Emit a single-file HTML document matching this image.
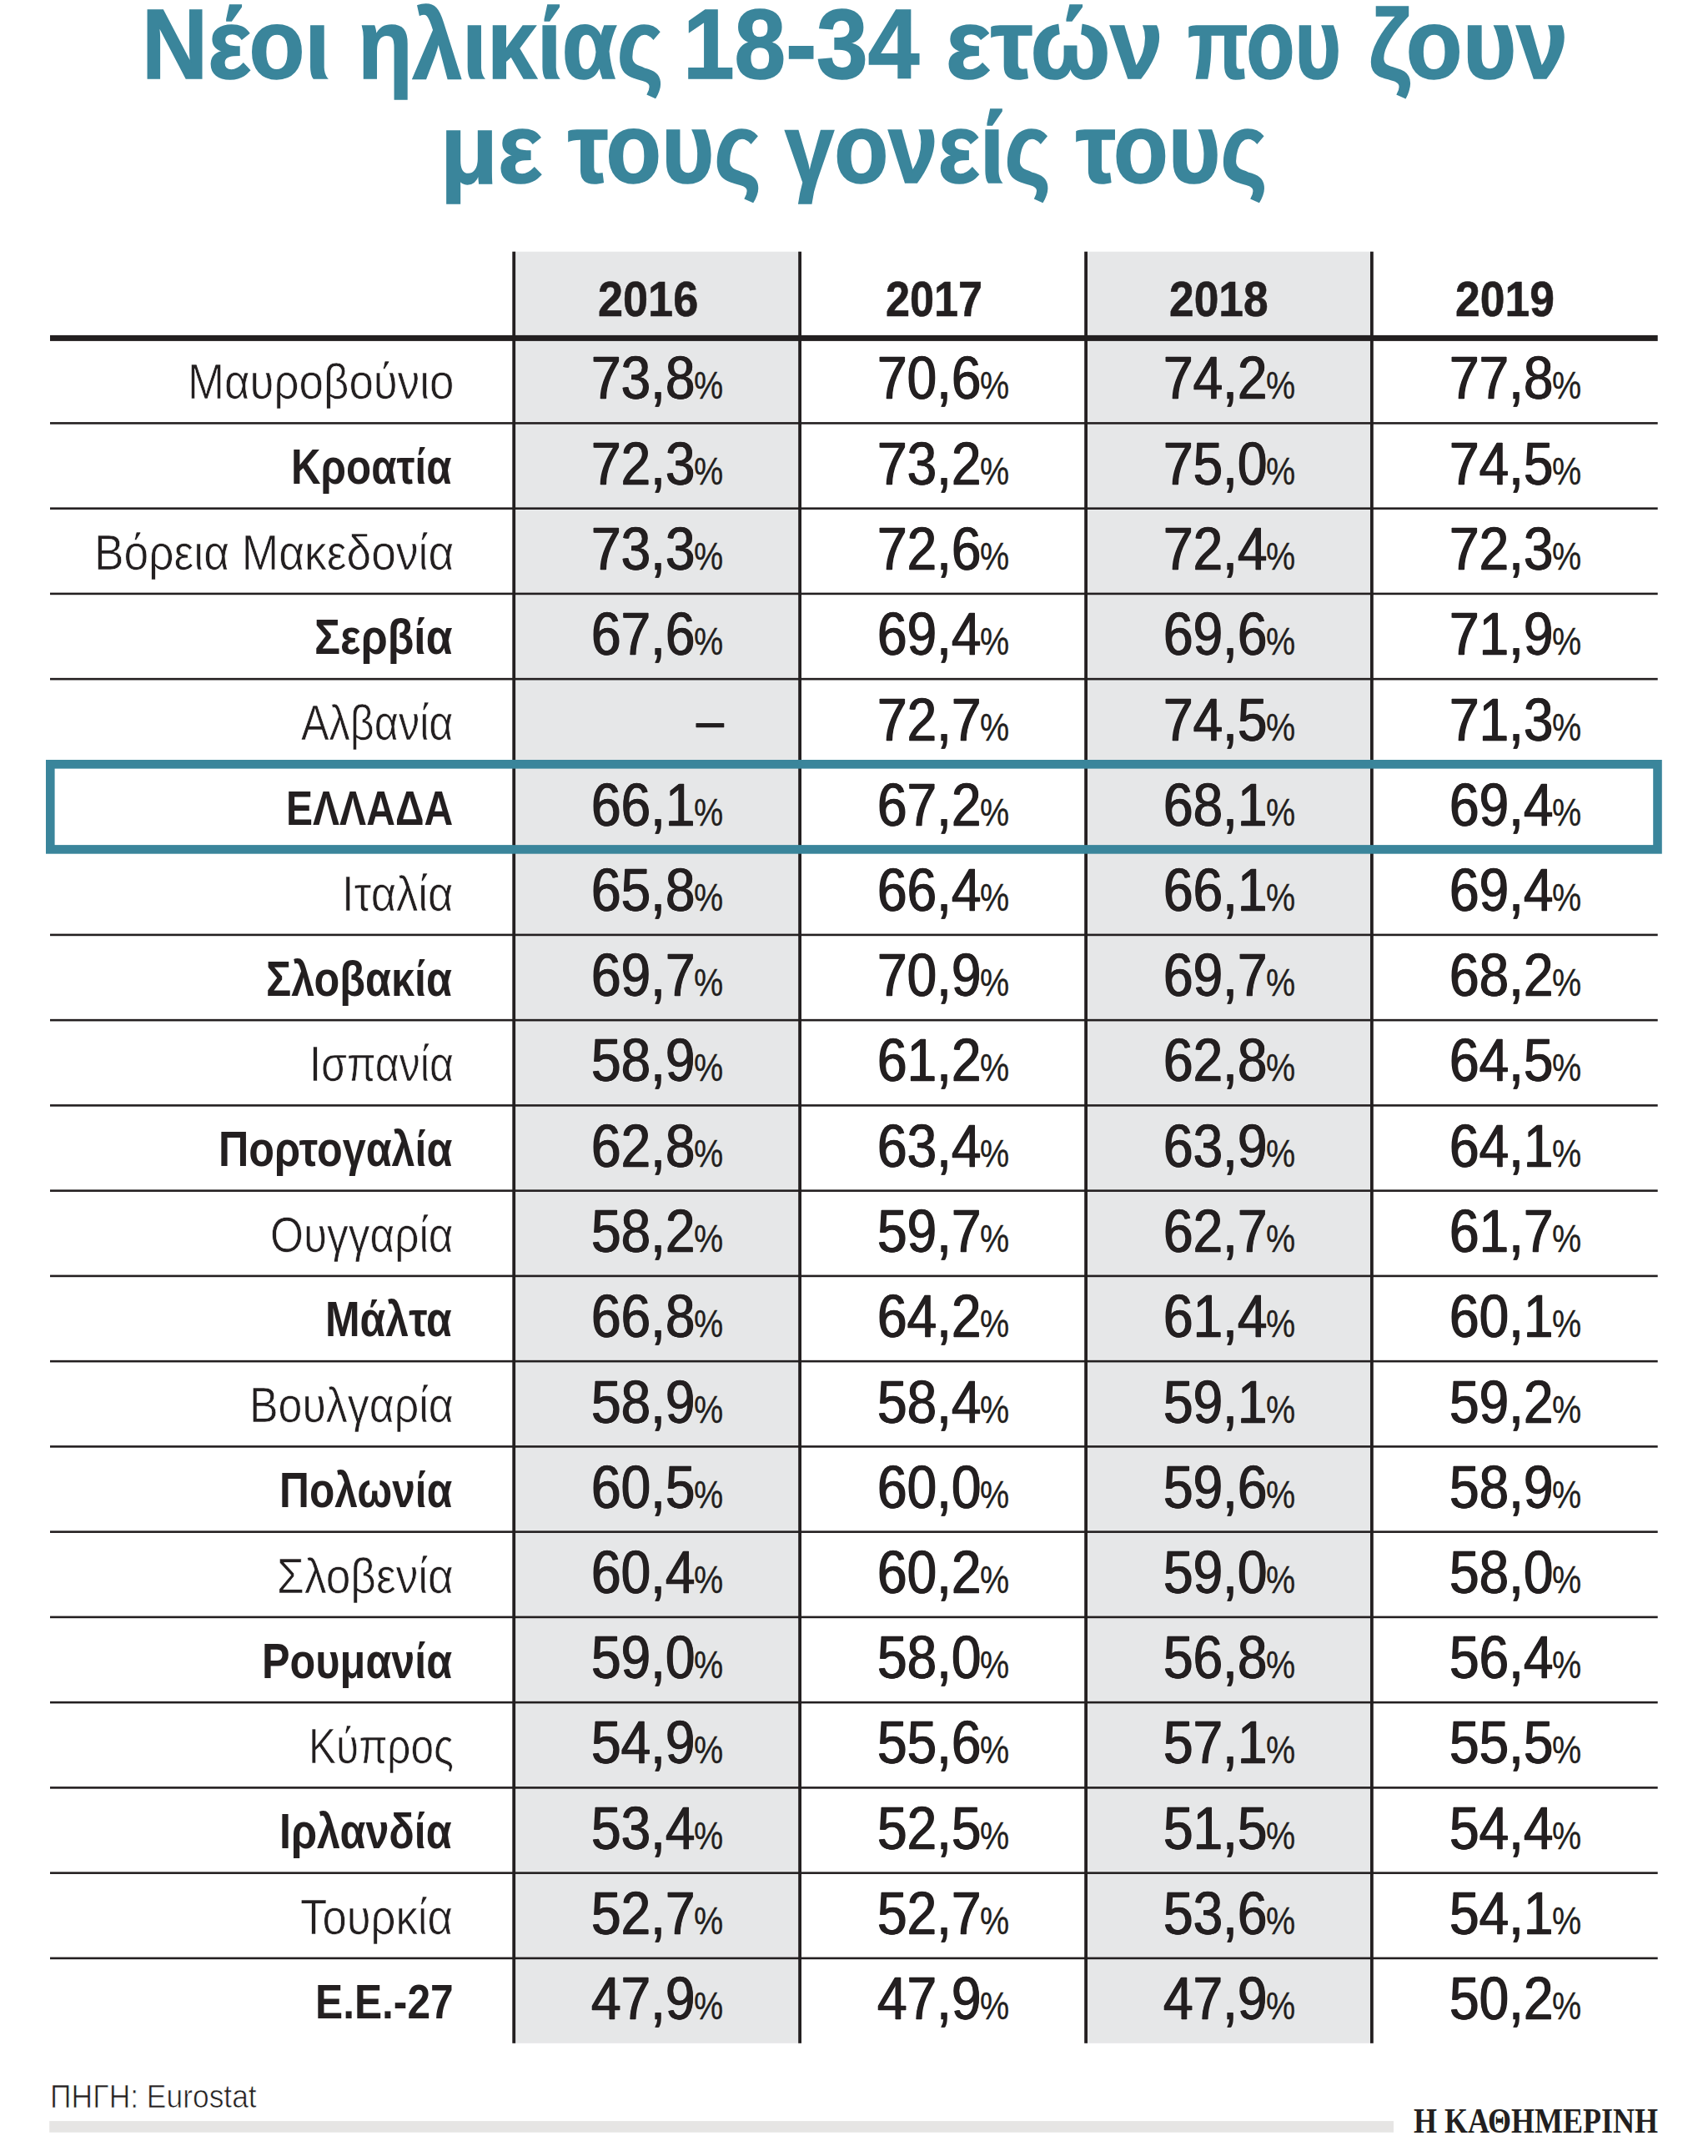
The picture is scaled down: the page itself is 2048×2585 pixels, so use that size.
<!DOCTYPE html>
<html lang="el"><head><meta charset="utf-8"><title>Νέοι ηλικίας 18-34 ετών που ζουν με τους γονείς τους</title>
<style>
html,body{margin:0;padding:0;background:#fff}
#pg{position:relative;width:2048px;height:2585px;overflow:hidden;background:#fff;font-family:'Liberation Sans', sans-serif;color:#231f20}
#sh{position:absolute;left:0;top:0}
.t{position:absolute;white-space:nowrap;transform-origin:0 0;font-weight:400}
.b{font-weight:700}
.l{-webkit-text-stroke:0.7px #fff}
.sl{-webkit-text-stroke:0.7px #fff}
.yr{-webkit-text-stroke:0.6px #231f20}
.tt{-webkit-text-stroke:1.6px #3a859b}
.sf{font-family:'Liberation Serif', serif;font-weight:700}
.n{font-size:71.5px;line-height:71.5px;transform:scaleX(0.8942);-webkit-text-stroke:0.3px #231f20;text-shadow:0.7px 0 0 #231f20,-0.7px 0 0 #231f20}
.p{font-size:46px;line-height:46px;transform:scaleX(0.8595);-webkit-text-stroke:0.3px #231f20}
</style></head>
<body><div id="pg">
<svg id="sh" width="2048" height="2585" viewBox="0 0 2048 2585">
<rect x="616.20" y="301.70" width="342.90" height="2148.10" fill="#e6e7e8"/>
<rect x="1302.10" y="301.70" width="342.80" height="2148.10" fill="#e6e7e8"/>
<rect x="60.00" y="506.10" width="1927.70" height="2.60" fill="#231f20"/>
<rect x="60.00" y="608.35" width="1927.70" height="2.60" fill="#231f20"/>
<rect x="60.00" y="710.60" width="1927.70" height="2.60" fill="#231f20"/>
<rect x="60.00" y="812.85" width="1927.70" height="2.60" fill="#231f20"/>
<rect x="60.00" y="1119.60" width="1927.70" height="2.60" fill="#231f20"/>
<rect x="60.00" y="1221.85" width="1927.70" height="2.60" fill="#231f20"/>
<rect x="60.00" y="1324.10" width="1927.70" height="2.60" fill="#231f20"/>
<rect x="60.00" y="1426.35" width="1927.70" height="2.60" fill="#231f20"/>
<rect x="60.00" y="1528.60" width="1927.70" height="2.60" fill="#231f20"/>
<rect x="60.00" y="1630.85" width="1927.70" height="2.60" fill="#231f20"/>
<rect x="60.00" y="1733.10" width="1927.70" height="2.60" fill="#231f20"/>
<rect x="60.00" y="1835.35" width="1927.70" height="2.60" fill="#231f20"/>
<rect x="60.00" y="1937.60" width="1927.70" height="2.60" fill="#231f20"/>
<rect x="60.00" y="2039.85" width="1927.70" height="2.60" fill="#231f20"/>
<rect x="60.00" y="2142.10" width="1927.70" height="2.60" fill="#231f20"/>
<rect x="60.00" y="2244.35" width="1927.70" height="2.60" fill="#231f20"/>
<rect x="60.00" y="2346.60" width="1927.70" height="2.60" fill="#231f20"/>
<rect x="60.00" y="401.90" width="1927.70" height="7.00" fill="#231f20"/>
<rect x="614.30" y="301.70" width="3.80" height="2148.10" fill="#231f20"/>
<rect x="957.20" y="301.70" width="3.80" height="2148.10" fill="#231f20"/>
<rect x="1300.20" y="301.70" width="3.80" height="2148.10" fill="#231f20"/>
<rect x="1643.00" y="301.70" width="3.80" height="2148.10" fill="#231f20"/>
<rect x="60.30" y="916.30" width="1927.20" height="102.10" fill="none" stroke="#3a859b" stroke-width="10.6"/>
<rect x="59.20" y="2543.10" width="1611.80" height="13.60" fill="#e6e5e4"/>
</svg>
<div class="t b tt" style="left:169.67px;top:-6px;font-size:118px;line-height:118px;color:#3a859b;transform:scaleX(0.9286)">Νέοι</div>
<div class="t b tt" style="left:428.74px;top:-6px;font-size:118px;line-height:118px;color:#3a859b;transform:scaleX(0.9097)">ηλικίας</div>
<div class="t b tt" style="left:819.43px;top:-6px;font-size:118px;line-height:118px;color:#3a859b;transform:scaleX(0.9388)">18-34</div>
<div class="t b tt" style="left:1134.15px;top:-6px;font-size:118px;line-height:118px;color:#3a859b;transform:scaleX(0.9625)">ετών</div>
<div class="t b tt" style="left:1424.48px;top:-6px;font-size:118px;line-height:118px;color:#3a859b;transform:scaleX(0.8081)">που</div>
<div class="t b tt" style="left:1641.04px;top:-6px;font-size:118px;line-height:118px;color:#3a859b;transform:scaleX(0.9404)">ζουν</div>
<div class="t b tt" style="left:528.15px;top:119px;font-size:118px;line-height:118px;color:#3a859b;transform:scaleX(0.9559)">με</div>
<div class="t b tt" style="left:680.88px;top:119px;font-size:118px;line-height:118px;color:#3a859b;transform:scaleX(0.9215)">τους</div>
<div class="t b tt" style="left:940.90px;top:119px;font-size:118px;line-height:118px;color:#3a859b;transform:scaleX(0.9023)">γονείς</div>
<div class="t b tt" style="left:1289.89px;top:119px;font-size:118px;line-height:118px;color:#3a859b;transform:scaleX(0.9122)">τους</div>
<div class="t b yr" style="left:716.87px;top:330px;font-size:59px;line-height:59px;transform:scaleX(0.9157)">2016</div>
<div class="t b yr" style="left:1061.73px;top:330px;font-size:59px;line-height:59px;transform:scaleX(0.8843)">2017</div>
<div class="t b yr" style="left:1402.19px;top:330px;font-size:59px;line-height:59px;transform:scaleX(0.9039)">2018</div>
<div class="t b yr" style="left:1744.79px;top:330px;font-size:59px;line-height:59px;transform:scaleX(0.9063)">2019</div>
<div class="t l" style="left:224.71px;top:428px;font-size:59.5px;line-height:59.5px;transform:scaleX(0.8886)">Μαυροβούνιο</div>
<div class="t b" style="left:349.49px;top:530px;font-size:59.5px;line-height:59.5px;transform:scaleX(0.8281)">Κροατία</div>
<div class="t l" style="left:112.57px;top:633px;font-size:59.5px;line-height:59.5px;transform:scaleX(0.8964)">Βόρεια Μακεδονία</div>
<div class="t b" style="left:377.09px;top:734px;font-size:59.5px;line-height:59.5px;transform:scaleX(0.8704)">Σερβία</div>
<div class="t l" style="left:360.65px;top:837px;font-size:59.5px;line-height:59.5px;transform:scaleX(0.8472)">Αλβανία</div>
<div class="t b" style="left:342.66px;top:941px;font-size:57.5px;line-height:57.5px;transform:scaleX(0.8359)">ΕΛΛΑΔΑ</div>
<div class="t l" style="left:410.23px;top:1042px;font-size:59.5px;line-height:59.5px;transform:scaleX(0.8840)">Ιταλία</div>
<div class="t b" style="left:319.06px;top:1144px;font-size:59.5px;line-height:59.5px;transform:scaleX(0.8462)">Σλοβακία</div>
<div class="t l" style="left:370.84px;top:1246px;font-size:59.5px;line-height:59.5px;transform:scaleX(0.8429)">Ισπανία</div>
<div class="t b" style="left:261.62px;top:1348px;font-size:59.5px;line-height:59.5px;transform:scaleX(0.8459)">Πορτογαλία</div>
<div class="t l" style="left:324.26px;top:1451px;font-size:59.5px;line-height:59.5px;transform:scaleX(0.8639)">Ουγγαρία</div>
<div class="t b" style="left:390.44px;top:1552px;font-size:59.5px;line-height:59.5px;transform:scaleX(0.8398)">Μάλτα</div>
<div class="t l" style="left:298.59px;top:1655px;font-size:59.5px;line-height:59.5px;transform:scaleX(0.8723)">Βουλγαρία</div>
<div class="t b" style="left:335.36px;top:1757px;font-size:59.5px;line-height:59.5px;transform:scaleX(0.8350)">Πολωνία</div>
<div class="t l" style="left:331.77px;top:1860px;font-size:59.5px;line-height:59.5px;transform:scaleX(0.8944)">Σλοβενία</div>
<div class="t b" style="left:314.02px;top:1962px;font-size:59.5px;line-height:59.5px;transform:scaleX(0.8460)">Ρουμανία</div>
<div class="t l" style="left:369.59px;top:2064px;font-size:59.5px;line-height:59.5px;transform:scaleX(0.8327)">Κύπρος</div>
<div class="t b" style="left:335.32px;top:2166px;font-size:59.5px;line-height:59.5px;transform:scaleX(0.8454)">Ιρλανδία</div>
<div class="t l" style="left:360.36px;top:2269px;font-size:59.5px;line-height:59.5px;transform:scaleX(0.8858)">Τουρκία</div>
<div class="t b" style="left:378.34px;top:2372px;font-size:57.5px;line-height:57.5px;transform:scaleX(0.8638)">Ε.Ε.-27</div>
<div class="t n" style="left:708.80px;top:418px">73,8</div>
<div class="t p" style="left:831.73px;top:439px">%</div>
<div class="t n" style="left:1051.80px;top:418px">70,6</div>
<div class="t p" style="left:1174.73px;top:439px">%</div>
<div class="t n" style="left:1394.80px;top:418px">74,2</div>
<div class="t p" style="left:1517.73px;top:439px">%</div>
<div class="t n" style="left:1737.80px;top:418px">77,8</div>
<div class="t p" style="left:1860.73px;top:439px">%</div>
<div class="t n" style="left:708.80px;top:521px">72,3</div>
<div class="t p" style="left:831.73px;top:542px">%</div>
<div class="t n" style="left:1051.80px;top:521px">73,2</div>
<div class="t p" style="left:1174.73px;top:542px">%</div>
<div class="t n" style="left:1394.80px;top:521px">75,0</div>
<div class="t p" style="left:1517.73px;top:542px">%</div>
<div class="t n" style="left:1737.80px;top:521px">74,5</div>
<div class="t p" style="left:1860.73px;top:542px">%</div>
<div class="t n" style="left:708.80px;top:623px">73,3</div>
<div class="t p" style="left:831.73px;top:644px">%</div>
<div class="t n" style="left:1051.80px;top:623px">72,6</div>
<div class="t p" style="left:1174.73px;top:644px">%</div>
<div class="t n" style="left:1394.80px;top:623px">72,4</div>
<div class="t p" style="left:1517.73px;top:644px">%</div>
<div class="t n" style="left:1737.80px;top:623px">72,3</div>
<div class="t p" style="left:1860.73px;top:644px">%</div>
<div class="t n" style="left:708.80px;top:725px">67,6</div>
<div class="t p" style="left:831.73px;top:746px">%</div>
<div class="t n" style="left:1051.80px;top:725px">69,4</div>
<div class="t p" style="left:1174.73px;top:746px">%</div>
<div class="t n" style="left:1394.80px;top:725px">69,6</div>
<div class="t p" style="left:1517.73px;top:746px">%</div>
<div class="t n" style="left:1737.80px;top:725px">71,9</div>
<div class="t p" style="left:1860.73px;top:746px">%</div>
<div class="t n" style="left:834.50px;top:828px;transform:scaleX(0.8250)">–</div>
<div class="t n" style="left:1051.80px;top:828px">72,7</div>
<div class="t p" style="left:1174.73px;top:849px">%</div>
<div class="t n" style="left:1394.80px;top:828px">74,5</div>
<div class="t p" style="left:1517.73px;top:849px">%</div>
<div class="t n" style="left:1737.80px;top:828px">71,3</div>
<div class="t p" style="left:1860.73px;top:849px">%</div>
<div class="t n" style="left:708.80px;top:930px">66,1</div>
<div class="t p" style="left:831.73px;top:951px">%</div>
<div class="t n" style="left:1051.80px;top:930px">67,2</div>
<div class="t p" style="left:1174.73px;top:951px">%</div>
<div class="t n" style="left:1394.80px;top:930px">68,1</div>
<div class="t p" style="left:1517.73px;top:951px">%</div>
<div class="t n" style="left:1737.80px;top:930px">69,4</div>
<div class="t p" style="left:1860.73px;top:951px">%</div>
<div class="t n" style="left:708.80px;top:1032px">65,8</div>
<div class="t p" style="left:831.73px;top:1053px">%</div>
<div class="t n" style="left:1051.80px;top:1032px">66,4</div>
<div class="t p" style="left:1174.73px;top:1053px">%</div>
<div class="t n" style="left:1394.80px;top:1032px">66,1</div>
<div class="t p" style="left:1517.73px;top:1053px">%</div>
<div class="t n" style="left:1737.80px;top:1032px">69,4</div>
<div class="t p" style="left:1860.73px;top:1053px">%</div>
<div class="t n" style="left:708.80px;top:1134px">69,7</div>
<div class="t p" style="left:831.73px;top:1155px">%</div>
<div class="t n" style="left:1051.80px;top:1134px">70,9</div>
<div class="t p" style="left:1174.73px;top:1155px">%</div>
<div class="t n" style="left:1394.80px;top:1134px">69,7</div>
<div class="t p" style="left:1517.73px;top:1155px">%</div>
<div class="t n" style="left:1737.80px;top:1134px">68,2</div>
<div class="t p" style="left:1860.73px;top:1155px">%</div>
<div class="t n" style="left:708.80px;top:1236px">58,9</div>
<div class="t p" style="left:831.73px;top:1257px">%</div>
<div class="t n" style="left:1051.80px;top:1236px">61,2</div>
<div class="t p" style="left:1174.73px;top:1257px">%</div>
<div class="t n" style="left:1394.80px;top:1236px">62,8</div>
<div class="t p" style="left:1517.73px;top:1257px">%</div>
<div class="t n" style="left:1737.80px;top:1236px">64,5</div>
<div class="t p" style="left:1860.73px;top:1257px">%</div>
<div class="t n" style="left:708.80px;top:1339px">62,8</div>
<div class="t p" style="left:831.73px;top:1360px">%</div>
<div class="t n" style="left:1051.80px;top:1339px">63,4</div>
<div class="t p" style="left:1174.73px;top:1360px">%</div>
<div class="t n" style="left:1394.80px;top:1339px">63,9</div>
<div class="t p" style="left:1517.73px;top:1360px">%</div>
<div class="t n" style="left:1737.80px;top:1339px">64,1</div>
<div class="t p" style="left:1860.73px;top:1360px">%</div>
<div class="t n" style="left:708.80px;top:1441px">58,2</div>
<div class="t p" style="left:831.73px;top:1462px">%</div>
<div class="t n" style="left:1051.80px;top:1441px">59,7</div>
<div class="t p" style="left:1174.73px;top:1462px">%</div>
<div class="t n" style="left:1394.80px;top:1441px">62,7</div>
<div class="t p" style="left:1517.73px;top:1462px">%</div>
<div class="t n" style="left:1737.80px;top:1441px">61,7</div>
<div class="t p" style="left:1860.73px;top:1462px">%</div>
<div class="t n" style="left:708.80px;top:1543px">66,8</div>
<div class="t p" style="left:831.73px;top:1564px">%</div>
<div class="t n" style="left:1051.80px;top:1543px">64,2</div>
<div class="t p" style="left:1174.73px;top:1564px">%</div>
<div class="t n" style="left:1394.80px;top:1543px">61,4</div>
<div class="t p" style="left:1517.73px;top:1564px">%</div>
<div class="t n" style="left:1737.80px;top:1543px">60,1</div>
<div class="t p" style="left:1860.73px;top:1564px">%</div>
<div class="t n" style="left:708.80px;top:1646px">58,9</div>
<div class="t p" style="left:831.73px;top:1667px">%</div>
<div class="t n" style="left:1051.80px;top:1646px">58,4</div>
<div class="t p" style="left:1174.73px;top:1667px">%</div>
<div class="t n" style="left:1394.80px;top:1646px">59,1</div>
<div class="t p" style="left:1517.73px;top:1667px">%</div>
<div class="t n" style="left:1737.80px;top:1646px">59,2</div>
<div class="t p" style="left:1860.73px;top:1667px">%</div>
<div class="t n" style="left:708.80px;top:1748px">60,5</div>
<div class="t p" style="left:831.73px;top:1769px">%</div>
<div class="t n" style="left:1051.80px;top:1748px">60,0</div>
<div class="t p" style="left:1174.73px;top:1769px">%</div>
<div class="t n" style="left:1394.80px;top:1748px">59,6</div>
<div class="t p" style="left:1517.73px;top:1769px">%</div>
<div class="t n" style="left:1737.80px;top:1748px">58,9</div>
<div class="t p" style="left:1860.73px;top:1769px">%</div>
<div class="t n" style="left:708.80px;top:1850px">60,4</div>
<div class="t p" style="left:831.73px;top:1871px">%</div>
<div class="t n" style="left:1051.80px;top:1850px">60,2</div>
<div class="t p" style="left:1174.73px;top:1871px">%</div>
<div class="t n" style="left:1394.80px;top:1850px">59,0</div>
<div class="t p" style="left:1517.73px;top:1871px">%</div>
<div class="t n" style="left:1737.80px;top:1850px">58,0</div>
<div class="t p" style="left:1860.73px;top:1871px">%</div>
<div class="t n" style="left:708.80px;top:1952px">59,0</div>
<div class="t p" style="left:831.73px;top:1973px">%</div>
<div class="t n" style="left:1051.80px;top:1952px">58,0</div>
<div class="t p" style="left:1174.73px;top:1973px">%</div>
<div class="t n" style="left:1394.80px;top:1952px">56,8</div>
<div class="t p" style="left:1517.73px;top:1973px">%</div>
<div class="t n" style="left:1737.80px;top:1952px">56,4</div>
<div class="t p" style="left:1860.73px;top:1973px">%</div>
<div class="t n" style="left:708.80px;top:2054px">54,9</div>
<div class="t p" style="left:831.73px;top:2075px">%</div>
<div class="t n" style="left:1051.80px;top:2054px">55,6</div>
<div class="t p" style="left:1174.73px;top:2075px">%</div>
<div class="t n" style="left:1394.80px;top:2054px">57,1</div>
<div class="t p" style="left:1517.73px;top:2075px">%</div>
<div class="t n" style="left:1737.80px;top:2054px">55,5</div>
<div class="t p" style="left:1860.73px;top:2075px">%</div>
<div class="t n" style="left:708.80px;top:2157px">53,4</div>
<div class="t p" style="left:831.73px;top:2178px">%</div>
<div class="t n" style="left:1051.80px;top:2157px">52,5</div>
<div class="t p" style="left:1174.73px;top:2178px">%</div>
<div class="t n" style="left:1394.80px;top:2157px">51,5</div>
<div class="t p" style="left:1517.73px;top:2178px">%</div>
<div class="t n" style="left:1737.80px;top:2157px">54,4</div>
<div class="t p" style="left:1860.73px;top:2178px">%</div>
<div class="t n" style="left:708.80px;top:2259px">52,7</div>
<div class="t p" style="left:831.73px;top:2280px">%</div>
<div class="t n" style="left:1051.80px;top:2259px">52,7</div>
<div class="t p" style="left:1174.73px;top:2280px">%</div>
<div class="t n" style="left:1394.80px;top:2259px">53,6</div>
<div class="t p" style="left:1517.73px;top:2280px">%</div>
<div class="t n" style="left:1737.80px;top:2259px">54,1</div>
<div class="t p" style="left:1860.73px;top:2280px">%</div>
<div class="t n" style="left:708.80px;top:2361px">47,9</div>
<div class="t p" style="left:831.73px;top:2382px">%</div>
<div class="t n" style="left:1051.80px;top:2361px">47,9</div>
<div class="t p" style="left:1174.73px;top:2382px">%</div>
<div class="t n" style="left:1394.80px;top:2361px">47,9</div>
<div class="t p" style="left:1517.73px;top:2382px">%</div>
<div class="t n" style="left:1737.80px;top:2361px">50,2</div>
<div class="t p" style="left:1860.73px;top:2382px">%</div>
<div class="t sl" style="left:60.26px;top:2495px;font-size:38px;line-height:38px;transform:scaleX(0.9316)">ΠΗΓΗ: Eurostat</div>
<div class="t sf" style="left:1695.16px;top:2521px;font-size:43px;line-height:43px;transform:scaleX(0.8379)">Η ΚΑΘΗΜΕΡΙΝΗ</div>
</div></body></html>
